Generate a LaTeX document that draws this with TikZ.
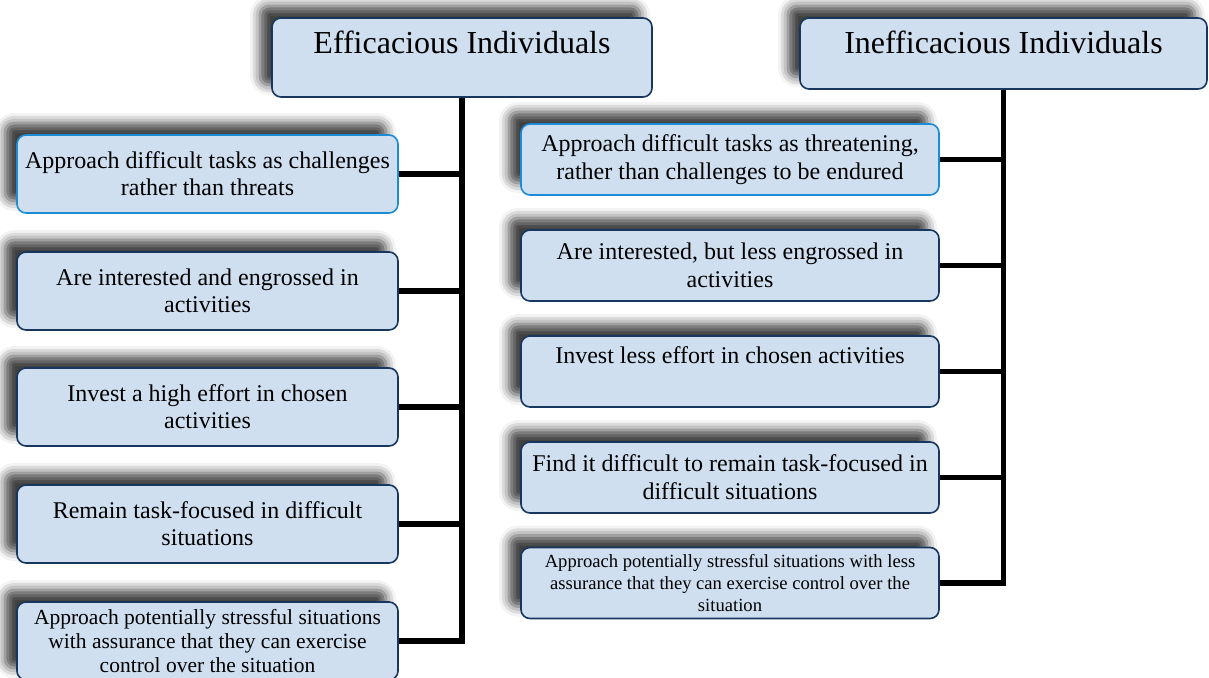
\documentclass[tikz,border=0pt]{standalone}
\usepackage{fontspec}
\setmainfont{Liberation Serif}
\usepackage{tikz}
\usetikzlibrary{shadows.blur}
\definecolor{boxfill}{RGB}{207,223,240}
\definecolor{boxline}{RGB}{23,55,94}
\definecolor{firstline}{RGB}{28,140,214}

\begin{document}
\begin{tikzpicture}[x=1pt, y=-1pt]
\tikzstyle{every node}=[rectangle, rounded corners=9pt, draw=boxline,
                        line width=1.6pt, fill=boxfill, inner sep=0pt,
                        align=center, font=\fontsize{24}{27}\selectfont,
                        blur shadow={shadow xshift=-12pt, shadow yshift=12pt,
                                     shadow blur radius=10pt, shadow opacity=75}]
\tikzstyle{leftbox}=[minimum width=381pt, minimum height=78pt]
\tikzstyle{rightbox}=[minimum width=418pt, minimum height=71pt,
                      font=\fontsize{24}{28}\selectfont]
\tikzstyle{link}=[line width=5.5pt, black]
\useasboundingbox (0,0) rectangle (1209,677);
% headers
\node (E) at (462,57.5) [minimum width=380pt, text height=35pt, text depth=44pt,
      font=\fontsize{32}{38}\selectfont] {Efficacious Individuals};
\node (I) at (1003.5,53.5) [minimum width=407pt, text height=35pt, text depth=36pt,
      font=\fontsize{32}{38}\selectfont] {Inefficacious Individuals};
% left column
\node[leftbox, draw=firstline] (L1) at (207.5,174) {Approach difficult tasks as challenges\\rather than threats};
\node[leftbox] (L2) at (207.5,291) {Are interested and engrossed in\\activities};
\node[leftbox] (L3) at (207.5,407) {Invest a high effort in chosen\\activities};
\node[leftbox] (L4) at (207.5,524) {Remain task-focused in difficult\\situations};
\node[leftbox, font=\fontsize{21.5}{24}\selectfont] (L5) at (207.5,641)
      {Approach potentially stressful situations\\with assurance that they can exercise\\control over the situation};
% right column
\node[rightbox, draw=firstline] (R1) at (730,159.5) {Approach difficult tasks as threatening,\\rather than challenges to be endured};
\node[rightbox] (R2) at (730,265.5) {Are interested, but less engrossed in\\activities};
\node[rightbox, text height=27pt, text depth=44pt] (R3) at (730,371.5) {Invest less effort in chosen activities};
\node[rightbox] (R4) at (730,477.5) {Find it difficult to remain task-focused in\\difficult situations};
\node[rightbox, font=\fontsize{18.6}{22}\selectfont] (R5) at (730,583)
      {Approach potentially stressful situations with less\\assurance that they can exercise control over the\\situation};
% connectors
\draw[link] (E.south) -- (E.south |- L5.east) -- (L5.east);
\draw[link] (I.south) -- (I.south |- R5.east) -- (R5.east);
\foreach \i/\j in {L1/E,L2/E,L3/E,L4/E,R1/I,R2/I,R3/I,R4/I}{\draw[link] (\i.east) -- (\i.east -| \j.south);}
\end{tikzpicture}
\end{document}
